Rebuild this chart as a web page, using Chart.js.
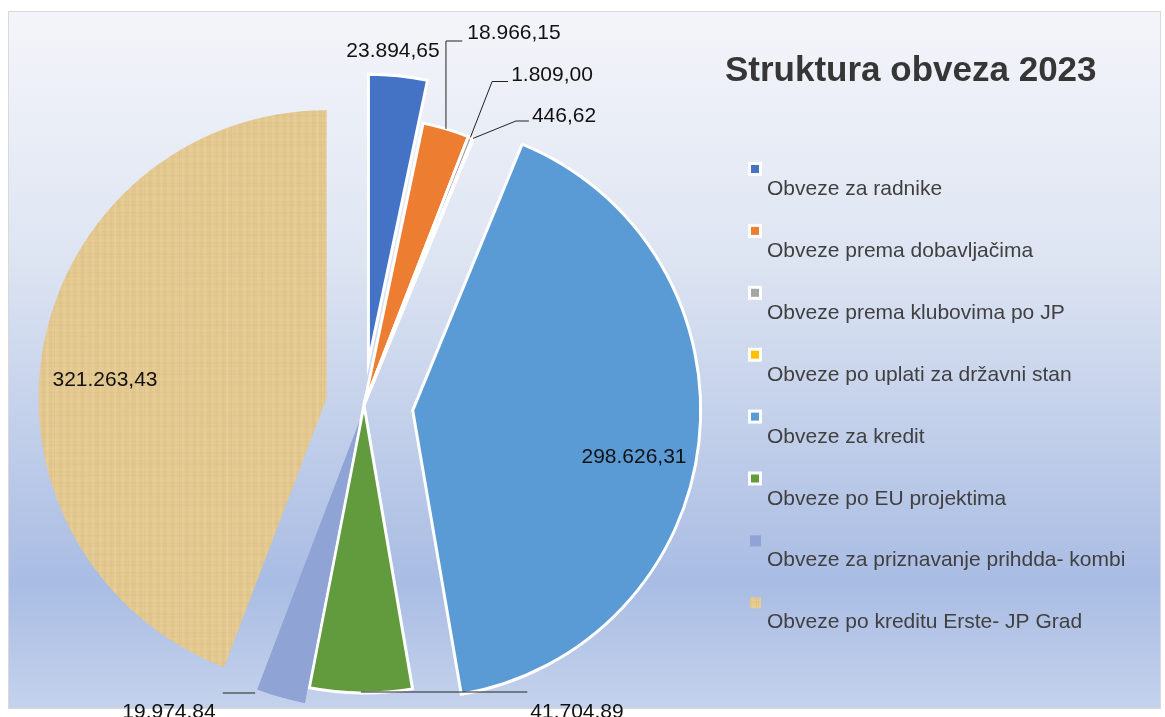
<!DOCTYPE html>
<html>
<head>
<meta charset="utf-8">
<script src="https://cdn.jsdelivr.net/npm/chart.js@4.4.0/dist/chart.umd.min.js"></script>
<style>
  html, body { margin: 0; padding: 0; background: #fff; }
  #wrap { position: relative; width: 1165px; height: 717px; }
</style>
</head>
<body>
<div id="wrap"><canvas id="pie"></canvas></div>
<script>
const categories = [
  "Obveze za radnike",
  "Obveze prema dobavljačima",
  "Obveze prema klubovima po JP",
  "Obveze po uplati za državni stan",
  "Obveze za kredit",
  "Obveze po EU projektima",
  "Obveze za priznavanje prihdda- kombi",
  "Obveze po kreditu Erste- JP Grad"
];
const values = [23894.65, 18966.15, 1809.00, 446.62, 298626.31, 41704.89, 19974.84, 321263.43];
const chartTitle = "Struktura obveza 2023";

// styling
const FONT = '"Liberation Sans", Arial, sans-serif';
const sliceColors = ["#4472c4", "#ed7d31", "#a5a5a5", "#ffc000", "#5b9bd5", "#629b3d", "#8fa3d4", "papyrus"];
const explodePx = [43, 0, 0, 0, 49, 0, 16, 38];   // how far each slice is pulled out
const borders = [3, 3, 3, 3, 3, 3, 0, 0];
const PIE_R = 288;

// label placement relative to the pie centre (text centre), plus leader style
const labelPlace = [
  { dx: 29, dy: -354 },
  { dx: 150, dy: -372, leader: "up", ly: 8 },
  { dx: 188, dy: -330, leader: "diag", ly: 6.5, run: 16 },
  { dx: 200, dy: -289, leader: "diag", ly: 5, run: 13 },
  { dx: 270, dy: 52 },
  { dx: 213, dy: 307, leader: "flatMid", ly: -20 },
  { dx: -195, dy: 307, leader: "flatEnd", ly: -19 },
  { dx: -259, dy: -25 }
];

function fmt(v) {
  const [i, d] = v.toFixed(2).split(".");
  return i.replace(/\B(?=(\d{3})+(?!\d))/g, ".") + "," + d;
}

function makePapyrus() {
  const c = document.createElement("canvas");
  c.width = 90; c.height = 90;
  const g = c.getContext("2d");
  g.fillStyle = "#ead19a";
  g.fillRect(0, 0, 90, 90);
  for (let i = 0; i < 90; i++) {
    const a = Math.abs(0.16 * Math.sin(i * 1.7) * Math.cos(i * 0.43));
    g.fillStyle = "rgba(165,125,55," + a.toFixed(3) + ")";
    g.fillRect(i, 0, 1, 90);
  }
  for (let j = 0; j < 90; j++) {
    const a = Math.abs(0.06 * Math.sin(j * 2.3) * Math.cos(j * 0.31));
    g.fillStyle = "rgba(150,110,40," + a.toFixed(3) + ")";
    g.fillRect(0, j, 90, 1);
  }
  return g.createPattern(c, "repeat");
}
const papyrus = makePapyrus();
const fills = sliceColors.map(c => c === "papyrus" ? papyrus : c);

function radiusGrow(arc) {
  const off = (arc.options.offset || 0) / 4;
  return off * (1 - Math.sin(Math.min(Math.PI, arc.circumference || 0)));
}

const framePlugin = {
  id: "frame",
  afterDatasetsUpdate(chart) {
    // Chart.js grows and narrows offset arcs; undo that so they keep radius and angle
    chart.getDatasetMeta(0).data.forEach(arc => {
      const grow = radiusGrow(arc);
      const d = grow / (2 * Math.PI * PIE_R);
      arc.outerRadius = PIE_R - grow;
      arc.startAngle -= d;
      arc.endAngle += d;
    });
  },
  beforeDraw(chart) {
    const ctx = chart.ctx;
    ctx.save();
    ctx.fillStyle = "#fff";
    ctx.fillRect(0, 0, chart.width, chart.height);
    const g = ctx.createLinearGradient(0, 11, 0, 708);
    g.addColorStop(0, "#f4f5fa");
    g.addColorStop(0.35, "#dee5f2");
    g.addColorStop(0.82, "#a9bce3");
    g.addColorStop(1, "#c4d2ec");
    ctx.fillStyle = g;
    ctx.fillRect(8, 11, 1152, 697);
    ctx.strokeStyle = "#d9d9d9";
    ctx.lineWidth = 1;
    ctx.strokeRect(8.5, 11.5, 1152, 697);
    ctx.restore();
  },
  afterDraw(chart) {
    const ctx = chart.ctx;
    const meta = chart.getDatasetMeta(0);
    const ds = chart.data.datasets[0];
    ctx.save();

    // data labels
    ctx.font = "21px " + FONT;
    ctx.textBaseline = "middle";
    ctx.textAlign = "center";
    meta.data.forEach((arc, i) => {
      const lp = labelPlace[i];
      const p = arc.getProps(["x", "y", "startAngle", "endAngle"], true);
      const mid = (p.startAngle + p.endAngle) / 2;
      const off = (arc.options.offset || 0) / 4;
      const sx = Math.cos(mid) * off, sy = Math.sin(mid) * off;
      const cx = p.x, cy = p.y;
      const txt = fmt(ds.data[i]);
      const tx = cx + lp.dx, ty = cy + lp.dy;
      const w = ctx.measureText(txt).width;
      ctx.fillStyle = "#111";
      ctx.fillText(txt, tx, ty);
      if (!lp.leader) return;
      const R = PIE_R;
      const ax = cx + sx + Math.cos(mid) * R, ay = cy + sy + Math.sin(mid) * R;
      const ly = ty + lp.ly;
      ctx.strokeStyle = "#222";
      ctx.lineWidth = 1;
      ctx.beginPath();
      if (lp.leader === "up") {
        ctx.moveTo(ax, ay);
        ctx.lineTo(ax, ly);
        ctx.lineTo(tx - w / 2 - 5, ly);
      } else if (lp.leader === "diag") {
        ctx.moveTo(ax, ay);
        ctx.lineTo(tx - w / 2 - 3 - lp.run, ly);
        ctx.lineTo(tx - w / 2 - 3, ly);
      } else if (lp.leader === "flatMid") {
        ctx.moveTo(ax, ly);
        ctx.lineTo(tx - w / 2 - 3, ly);
      } else if (lp.leader === "flatEnd") {
        const ex = cx + sx + Math.cos(p.endAngle) * R;
        ctx.moveTo(ex, ly);
        ctx.lineTo(tx + w / 2 + 7, ly);
      }
      ctx.stroke();
    });

    // title
    ctx.textAlign = "left";
    ctx.textBaseline = "alphabetic";
    ctx.fillStyle = "#363636";
    ctx.font = "bold 35px " + FONT;
    ctx.fillText(chartTitle, 725, 81);

    // legend: marker above the text
    ctx.font = "21px " + FONT;
    chart.data.labels.forEach((lab, i) => {
      const my = 169 + i * 61.9;
      if (borders[i]) {
        ctx.fillStyle = "#fff";
        ctx.fillRect(748, my - 7, 14, 14);
        ctx.fillStyle = fills[i];
        ctx.fillRect(751, my - 4, 8, 8);
      } else {
        ctx.fillStyle = fills[i];
        ctx.fillRect(750, my - 5, 11, 11);
      }
      ctx.fillStyle = "#404040";
      ctx.fillText(lab, 767, my + 26);
    });
    ctx.restore();
  }
};

new Chart(document.getElementById("pie"), {
  type: "pie",
  data: {
    labels: categories,
    datasets: [{
      data: values,
      backgroundColor: fills,
      borderColor: "#ffffff",
      borderWidth: borders,
      borderJoinStyle: "miter",
      offset: explodePx.map(v => v * 4),
      clip: false
    }]
  },
  options: {
    responsive: true,
    maintainAspectRatio: false,
    animation: false,
    radius: PIE_R,
    layout: { padding: { left: 0, right: 437, top: 93, bottom: 0 } },
    plugins: {
      legend: { display: false },
      title: { display: false },
      tooltip: { enabled: false }
    }
  },
  plugins: [framePlugin]
});
</script>
</body>
</html>
